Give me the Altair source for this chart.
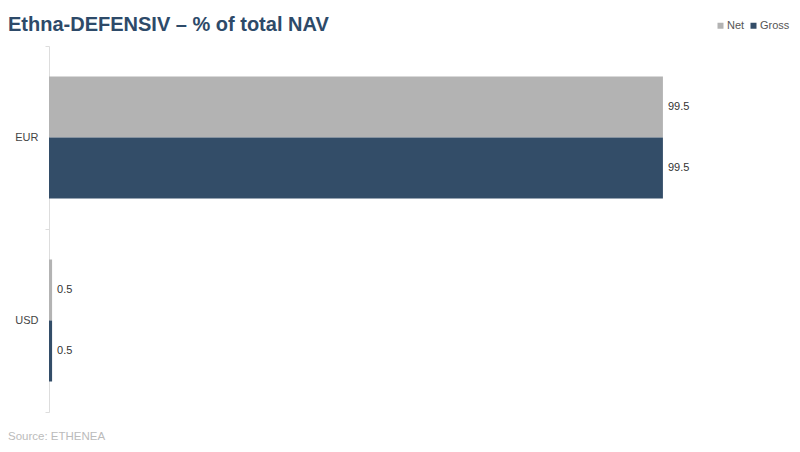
import altair as alt
import pandas as pd

currencies = ["EUR", "EUR", "USD", "USD"]
series = ["Net", "Gross", "Net", "Gross"]
values = [99.5, 99.5, 0.5, 0.5]
series_order = ["Net", "Gross"]
series_colors = ["#b3b3b3", "#334d68"]
title_text = "Ethna-DEFENSIV – % of total NAV"
source_text = ["Source: ETHENEA"]

df = pd.DataFrame({"currency": currencies, "series": series, "value": values})
src = pd.DataFrame({"t": source_text})

W, H = 617, 366

base = alt.Chart(df).encode(
    y=alt.Y("currency:N", title=None,
            scale=alt.Scale(paddingInner=0, paddingOuter=0),
            axis=alt.Axis(domainColor="#dddddd", tickColor="#dddddd", tickSize=4,
                          tickBand="extent", labelPadding=7, labelFontSize=11,
                          labelColor="#444444", labelFont="Liberation Sans")),
    yOffset=alt.YOffset("series:N", sort=series_order,
                        scale=alt.Scale(paddingInner=0, paddingOuter=0.5)),
    x=alt.X("value:Q", axis=None, scale=alt.Scale(domain=[0, 100])),
)

bars = base.mark_bar().encode(
    color=alt.Color("series:N", sort=series_order,
                    scale=alt.Scale(domain=series_order, range=series_colors),
                    legend=alt.Legend(title=None, orient="none", direction="horizontal",
                                      legendX=666, legendY=-26, symbolType="square",
                                      symbolSize=36, labelFontSize=11, labelColor="#555555",
                                      labelFont="Liberation Sans", columnPadding=3,
                                      symbolOffset=0, labelOffset=1))
)

labels = base.mark_text(align="left", baseline="middle", dx=5, fontSize=11,
                        color="#333333", font="Liberation Sans").encode(
    text=alt.Text("value:Q", format=".1f")
)

source = alt.Chart(src).mark_text(align="left", baseline="middle", fontSize=11.5,
                                  color="#bbbbbb", font="Liberation Sans").encode(
    x=alt.value(-41), y=alt.value(391), text="t:N"
)

chart = alt.layer(bars, labels, source).properties(
    width=W, height=H,
    autosize=alt.AutoSizeParams(type="none"),
    padding={"left": 41, "top": 38, "right": 126, "bottom": 32},
    title=alt.TitleParams(title_text, anchor="start", frame="group", dx=-41, dy=23,
                          offset=8, fontSize=20, font="Liberation Sans",
                          fontWeight="bold", color="#2d4a69"),
).configure_view(stroke=None)

chart.save("out.html", embed_options={"renderer": "svg", "actions": False})
